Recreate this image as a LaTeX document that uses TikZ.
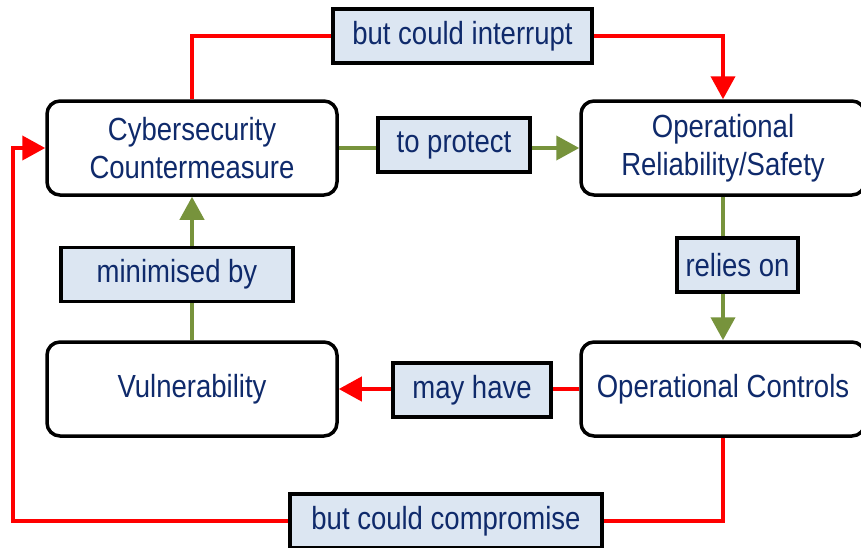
\documentclass[tikz,border=0pt]{standalone}
\usepackage{fontspec}
\setmainfont{Liberation Sans}[FakeStretch=0.86]
\usetikzlibrary{arrows.meta, calc}
\definecolor{csnavy}{HTML}{0F2A6B}
\definecolor{cstag}{HTML}{DCE6F2}
\definecolor{csgreen}{HTML}{77933C}
\definecolor{csred}{HTML}{FF0000}

\begin{document}
\begin{tikzpicture}[x=1pt, y=-1pt,
    font=\fontsize{32}{38}\selectfont,
    mainbox/.style={draw=black, line width=3.5pt, rounded corners=13pt, fill=white,
        text=csnavy, align=center, minimum width=288pt, minimum height=94pt, inner sep=0pt},
    tagbox/.style={draw=black, line width=3.5pt, fill=cstag, text=csnavy,
        minimum height=54pt, inner sep=0pt},
    redline/.style={draw=csred, line width=4pt},
    greenline/.style={draw=csgreen, line width=4pt},
    tip/.style={-{Triangle[length=23pt,width=24pt]}}]
            \useasboundingbox (0,0) rectangle (861,547);

            % Main boxes
            \node[mainbox, minimum width=290pt] (cyber) at (192,148) {Cybersecurity\\Countermeasure};
            \node[mainbox, minimum width=284pt] (oprel) at (723,148) {Operational\\Reliability/Safety};
            \node[mainbox, minimum width=290pt] (vuln) at (192,389) {Vulnerability};
            \node[mainbox, minimum width=284pt] (opctrl) at (723,389) {Operational Controls};

            % Labels on the links
            \node[tagbox, minimum width=259pt] (interrupt) at (462.5,36) {but could interrupt};
            \node[tagbox, minimum width=152pt] (protect) at (454,145) {to protect};
            \node[tagbox, minimum width=121pt] (relies) at (737.5,265) {relies on};
            \node[tagbox, minimum width=232pt] (minim) at (177,274.5) {minimised by};
            \node[tagbox, minimum width=158pt] (mayhave) at (472,390) {may have};
            \node[tagbox, minimum width=312pt] (compromise) at (446,521) {but could compromise};
            \coordinate (loopleft) at (13,300);

            % Green links
            \draw[greenline] (cyber.east) -- (cyber.east -| protect.west);
            \draw[greenline, tip] (cyber.east -| protect.east) -- (oprel.west);
            \draw[greenline] (oprel.south) -- (oprel.south |- relies.north);
            \draw[greenline, tip] (oprel.south |- relies.south) -- (opctrl.north);
            \draw[greenline] (vuln.north) -- (vuln.north |- minim.south);
            \draw[greenline, tip] (vuln.north |- minim.north) -- (cyber.south);

            % Red links
            \draw[redline] (cyber.north) |- (interrupt.west);
            \draw[redline, tip] (interrupt.east) -| (oprel.north);
            \draw[redline] (opctrl.west) -- (opctrl.west -| mayhave.east);
            \draw[redline, tip] (opctrl.west -| mayhave.west) -- (vuln.east);
            \draw[redline] (opctrl.south) |- (compromise.east);
            \draw[redline, tip] (compromise.west) -| (loopleft) |- (cyber.west);
        \end{tikzpicture}
\end{document}
